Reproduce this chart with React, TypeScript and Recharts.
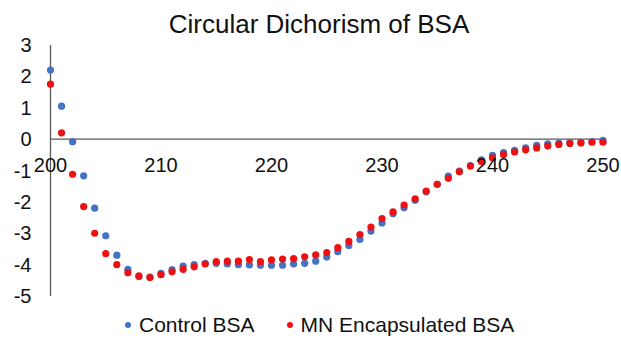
import React from "react";
import {
  ScatterChart,
  Scatter,
  XAxis,
  YAxis,
  ReferenceLine,
  ReferenceDot,
  Legend,
} from "recharts";

const wavelengths: number[] = [
  200, 201, 202, 203, 204, 205, 206, 207, 208, 209,
  210, 211, 212, 213, 214, 215, 216, 217, 218, 219,
  220, 221, 222, 223, 224, 225, 226, 227, 228, 229,
  230, 231, 232, 233, 234, 235, 236, 237, 238, 239,
  240, 241, 242, 243, 244, 245, 246, 247, 248, 249, 250,
];

const controlBSA: number[] = [
  2.2, 1.05, -0.08, -1.17, -2.2, -3.08, -3.7, -4.15, -4.38, -4.4,
  -4.28, -4.16, -4.05, -4.0, -3.96, -3.96, -3.98, -4.0, -4.01, -4.02,
  -4.02, -4.02, -3.98, -3.96, -3.89, -3.76, -3.59, -3.39, -3.2, -2.93,
  -2.67, -2.38, -2.19, -1.95, -1.68, -1.44, -1.18, -1.02, -0.84, -0.66,
  -0.52, -0.43, -0.36, -0.28, -0.2, -0.15, -0.13, -0.11, -0.1, -0.08, -0.04,
];

const mnEncapsulatedBSA: number[] = [
  1.75, 0.2, -1.12, -2.15, -3.0, -3.65, -4.0, -4.26, -4.36, -4.41,
  -4.32, -4.23, -4.15, -4.07, -3.98, -3.9, -3.89, -3.89, -3.84, -3.9,
  -3.85, -3.82, -3.81, -3.75, -3.69, -3.62, -3.46, -3.26, -3.04, -2.8,
  -2.53, -2.32, -2.1, -1.9, -1.66, -1.44, -1.25, -1.04, -0.86, -0.72,
  -0.6, -0.49, -0.41, -0.34, -0.28, -0.22, -0.17, -0.14, -0.12, -0.1, -0.1,
];

const xTicks: number[] = [200, 210, 220, 230, 240, 250];
const yTicks: number[] = [-5, -4, -3, -2, -1, 0, 1, 2, 3];

const seriesNames = ["Control BSA", "MN Encapsulated BSA"];
const BLUE = "#4472C4";
const RED = "#EE1111";
const FONT = "'Liberation Sans', Arial, Helvetica, sans-serif";
const AXIS = "#595959";

const controlData = wavelengths.map((x, i) => ({ x, y: controlBSA[i] }));
const mnData = wavelengths.map((x, i) => ({ x, y: mnEncapsulatedBSA[i] }));

const makeDot = (color: string) => (props: any) => (
  <circle cx={props.cx} cy={props.cy} r={3.6} fill={color} />
);

const LegendContent = () => (
  <div
    style={{
      display: "flex",
      alignItems: "center",
      fontFamily: FONT,
      fontSize: 21,
      color: "#111",
      lineHeight: "24px",
      whiteSpace: "nowrap",
    }}
  >
    {[BLUE, RED].map((c, i) => (
      <div
        key={i}
        style={{ display: "flex", alignItems: "center", marginLeft: i === 0 ? 0 : 32 }}
      >
        <span
          style={{
            display: "inline-block",
            width: 6,
            height: 6,
            borderRadius: 3,
            background: c,
            marginRight: 8,
          }}
        />
        <span>{seriesNames[i]}</span>
      </div>
    ))}
  </div>
);

export default function App() {
  return (
    <div style={{ position: "absolute", left: 0, top: 0, width: 621, height: 339, background: "#fff" }}>
      <div
        style={{
          position: "absolute",
          left: 0,
          top: 9,
          width: 638,
          textAlign: "center",
          fontFamily: FONT,
          fontSize: 26,
          lineHeight: "30px",
          color: "#111",
          whiteSpace: "nowrap",
        }}
      >
        Circular Dichorism of BSA
      </div>
      <ScatterChart
        width={621}
        height={339}
        margin={{ top: 45, right: 18, bottom: 19, left: 10 }}
      >
        <XAxis
          type="number"
          dataKey="x"
          domain={[200, 250]}
          ticks={xTicks}
          hide
          height={0}
        />
        <YAxis
          type="number"
          dataKey="y"
          domain={[-5, 3]}
          ticks={yTicks}
          width={40.5}
          tickLine={false}
          tickSize={0}
          tickMargin={19}
          axisLine={{ stroke: AXIS, strokeWidth: 1.3 }}
          tick={{ fill: "#111", fontSize: 20, fontFamily: FONT }}
          interval={0}
        />
        <ReferenceLine y={0} stroke={AXIS} strokeWidth={1.3} />
        {xTicks.map((t) => (
          <ReferenceDot
            key={t}
            x={t}
            y={0}
            r={0}
            fill="none"
            stroke="none"
            ifOverflow="visible"
            label={{
              value: String(t),
              position: "bottom",
              offset: 19,
              fill: "#111",
              fontSize: 20,
              fontFamily: FONT,
            }}
          />
        ))}
        <Scatter
          name={seriesNames[0]}
          data={controlData}
          fill={BLUE}
          shape={makeDot(BLUE)}
          isAnimationActive={false}
        />
        <Scatter
          name={seriesNames[1]}
          data={mnData}
          fill={RED}
          shape={makeDot(RED)}
          isAnimationActive={false}
        />
        <Legend
          layout="vertical"
          align="center"
          verticalAlign="bottom"
          content={LegendContent}
          wrapperStyle={{ position: "absolute", left: 125, top: 313, bottom: "auto", width: "auto" }}
        />
      </ScatterChart>
    </div>
  );
}
